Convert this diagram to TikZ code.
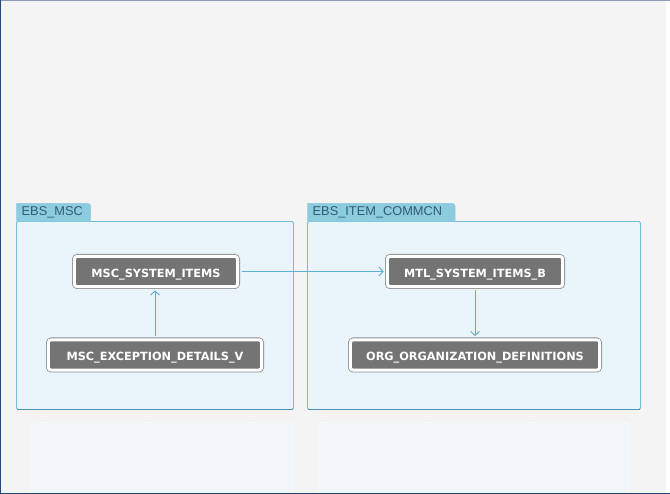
\documentclass[tikz,border=0pt]{standalone}
\usepackage{fontspec}
\setmainfont{Liberation Sans}
\newfontfamily\nodefont{DejaVu Sans}
\usetikzlibrary{arrows.meta}
\definecolor{bgc}{HTML}{F4F4F4}
\definecolor{grpfill}{HTML}{EAF4FB}
\definecolor{grpline}{HTML}{74BDDA}
\definecolor{grpdark}{HTML}{4F93B3}
\definecolor{tabfill}{HTML}{8DCBDF}
\definecolor{tabtext}{HTML}{2F5E74}
\definecolor{nodegray}{HTML}{747474}
\definecolor{nodeline}{HTML}{8E8E8E}
\definecolor{arrowc}{HTML}{5BAFD6}
\definecolor{palec}{HTML}{F1F6F9}
\definecolor{frameblue}{HTML}{1F4A78}
\definecolor{frametop}{HTML}{8A9DB5}
\tikzset{
  tbl/.style={preaction={draw=nodeline, line width=4.6pt, rounded corners=3pt},
    fill=nodegray, draw=white, line width=3pt, rounded corners=3pt,
    inner sep=0pt, minimum height=30.4pt, text height=11.2pt, text depth=0pt,
    text=white, font=\nodefont\bfseries\fontsize{11.3}{12}\selectfont},
  grpbox/.style={draw=grpline, fill=grpfill, line width=0.8pt, rounded corners=1.5pt},
  tabbox/.style={draw=tabfill, fill=tabfill, line width=0.5pt},
  tablabel/.style={anchor=west, inner sep=0pt, text=tabtext, font=\fontsize{12.8}{13}\selectfont},
  link/.style={draw=arrowc, line width=0.9pt, -{Straight Barb[length=4pt,width=9pt,line width=0.9pt]}, shorten >=2.3pt, shorten <=2.3pt},
  pale/.style={fill=palec, draw=white, line width=0.6pt, dotted}
}
\begin{document}
\begin{tikzpicture}[x=1pt,y=-1pt]
\useasboundingbox (0,0) rectangle (670,494);
\fill[bgc] (0,0) rectangle (670,494);
\fill[white] (666,0) rectangle (670,494);
% lower pale panels
\path[pale] (30,422) rectangle (292,494);
\path[pale] (318,422) rectangle (628,494);
% group EBS_MSC
\path[grpbox] (16.5,221.5) rectangle (293.5,409.5);
\draw[grpdark, line width=0.8pt] (17,409.5) -- (293,409.5);
\path[tabbox] (16.5,221.5) -- (16.5,203.5) -- (88,203.5) to[out=0,in=90] (90.5,206) -- (90.5,221.5) -- cycle;
\node[tablabel] (g1label) at (21.5,212.5) {EBS\_MSC};
% group EBS_ITEM_COMMCN
\path[grpbox] (307.5,221.5) rectangle (640.5,409.5);
\draw[grpdark, line width=0.8pt] (308,409.5) -- (640,409.5);
\path[tabbox] (307.5,221.5) -- (307.5,203.5) -- (452.5,203.5) to[out=0,in=90] (455,206) -- (455,221.5) -- cycle;
\node[tablabel] (g2label) at (312.5,212.5) {EBS\_ITEM\_COMMCN};
% tables
\node[tbl, minimum width=163.4pt] (sys) at (156,271.5) {MSC\_SYSTEM\_ITEMS};
\node[tbl, minimum width=213.4pt] (exc) at (155,355) {MSC\_EXCEPTION\_DETAILS\_V};
\node[tbl, minimum width=175.4pt] (mtl) at (475,271.5) {MTL\_SYSTEM\_ITEMS\_B};
\node[tbl, minimum width=249.4pt] (org) at (475,355) {ORG\_ORGANIZATION\_DEFINITIONS};
% links
\draw[link] (exc.north) -- (exc.north |- sys.south);
\draw[link] (sys.east) -- (mtl.west);
\draw[link] (mtl.south) -- (mtl.south |- org.north);
% frame
\fill[frametop] (0,0) rectangle (670,1.5);
\fill[frameblue] (0,0) rectangle (1.2,494);
\fill[frameblue] (0,492.5) rectangle (670,494);
\end{tikzpicture}
\end{document}
